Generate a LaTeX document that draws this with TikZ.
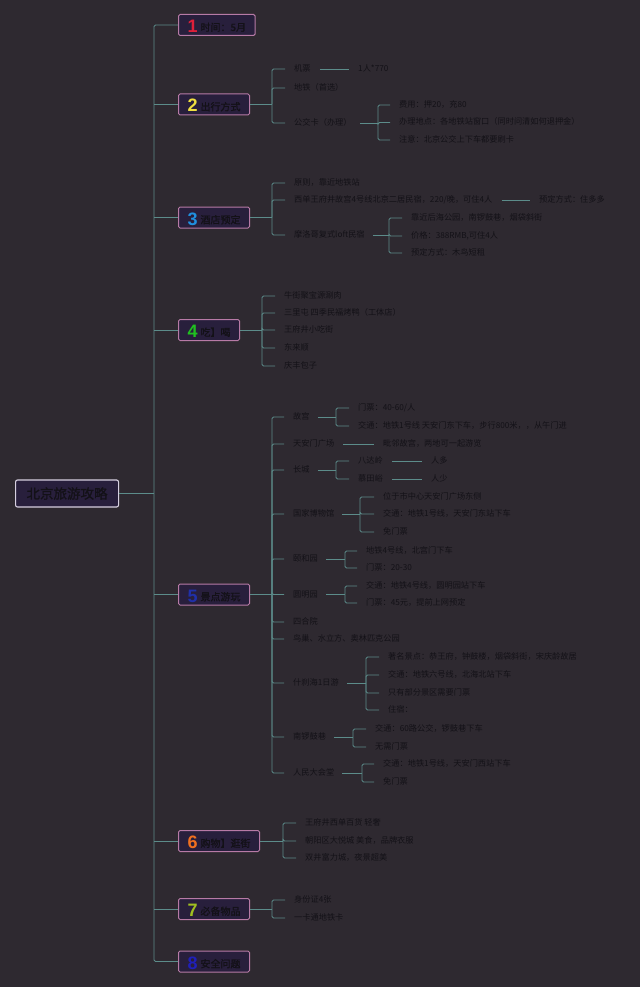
\documentclass[tikz,border=0pt]{standalone}
\usepackage{fontspec}
\setmainfont{Noto Sans CJK SC}
\newfontfamily\numfont{Liberation Sans}
\newfontfamily\boldcjk[FakeBold=1]{Noto Sans CJK SC}
\definecolor{bg}{HTML}{2E2930}
\definecolor{boxfill}{HTML}{281F3C}
\definecolor{boxline}{HTML}{B77AA6}
\definecolor{rootline}{HTML}{D6CFE0}
\definecolor{txt}{HTML}{131117}
\definecolor{lc}{HTML}{5C8C8A}
\definecolor{c1}{HTML}{E0203A}
\definecolor{c2}{HTML}{F0E040}
\definecolor{c3}{HTML}{2090E0}
\definecolor{c4}{HTML}{20C020}
\definecolor{c5}{HTML}{2030A8}
\definecolor{c6}{HTML}{F07020}
\definecolor{c7}{HTML}{A0C020}
\definecolor{c8}{HTML}{2020B8}
\newcommand\lnum[3]{{\numfont\bfseries\fontsize{18}{18}\selectfont\color{#1}#2}\hspace{3pt}\raisebox{1.5pt}{#3}}
\tikzset{
  leaf/.style={anchor=west, inner sep=1pt, text=txt, text height=6.5pt, text depth=1.5pt, font=\fontsize{8.2}{9}\selectfont},
  lone/.style={anchor=west, draw=boxline, fill=boxfill, line width=1pt, rounded corners=1.5pt, inner xsep=9pt, inner ysep=2pt, text height=16pt, text depth=1pt, text=txt, font=\boldcjk\fontsize{10}{12}\selectfont},
  rootbox/.style={anchor=west, draw=rootline, fill=boxfill, line width=1.1pt, rounded corners=2pt, minimum width=103pt, minimum height=27pt, inner sep=0pt, text=txt, font=\boldcjk\fontsize{13.5}{15}\selectfont},
  conn/.style={draw=lc, line width=0.9pt, rounded corners=1.5pt},
  stub/.style={conn, shorten >=8pt},
  link/.style={conn, shorten <=8pt, shorten >=8pt},
  pconn/.style={conn, shorten <=7pt}
}
\begin{document}
\begin{tikzpicture}[x=1pt,y=-1pt]
\fill[bg] (0,0) rectangle (640,987);
\useasboundingbox (0,0) rectangle (640,987);

% root
\node[rootbox] (root) at (15,493.5) {北京旅游攻略};

% level 1
\node[lone] (n1) at (178,25) {\lnum{c1}{1}{时间：5月}};
\node[lone] (n2) at (178,104.5) {\lnum{c2}{2}{出行方式}};
\node[lone] (n3) at (178,217.5) {\lnum{c3}{3}{酒店预定}};
\node[lone] (n4) at (178,330) {\lnum{c4}{4}{吃】喝}};
\node[lone] (n5) at (178,594.5) {\lnum{c5}{5}{景点游玩}};
\node[lone] (n6) at (178,841) {\lnum{c6}{6}{购物】逛街}};
\node[lone] (n7) at (178,909) {\lnum{c7}{7}{必备物品}};
\node[lone] (n8) at (178,961.5) {\lnum{c8}{8}{安全问题}};

% trunk
\coordinate (tb) at (154,961.5);
\draw[conn] (n1.west) -| (tb) -- (n8.west);
\foreach \n in {n2,n3,n4,n5,n6,n7} \draw[conn] (\n.west) -- (\n.west -| tb);
\draw[conn] (root.east) -- (root.east -| tb);

% ---- 2 出行方式
\node[leaf] (a21) at (293,69) {机票};
\node[leaf] (a22) at (293,88) {地铁（首选）};
\node[leaf] (a23) at (293,123) {公交卡（办理）};
\node[leaf] (a211) at (357,69) {1人*770};
\node[leaf] (a231) at (398,105) {费用：押20，充80};
\node[leaf] (a232) at (398,122.5) {办理地点：各地铁站窗口（同时问清如何退押金）};
\node[leaf] (a233) at (398,140) {注意：北京公交上下车都要刷卡};
\coordinate (b2) at (272,104.5);
\draw[conn] (n2.east) -- (b2);
\foreach \c in {a21,a22,a23} \draw[stub] (b2) |- (\c.west);
\draw[link] (a21.east) -- (a211.west);
\coordinate (b23) at (378,123);
\draw[pconn] (a23.east) -- (b23);
\foreach \c in {a231,a232,a233} \draw[stub] (b23) |- (\c.west);

% ---- 3 酒店预定
\node[leaf] (a31) at (293,183) {原则，靠近地铁站};
\node[leaf] (a32) at (293,200) {西单王府井故宫4号线北京二居民宿，220/晚，可住4人};
\node[leaf] (a33) at (293,235) {摩洛哥复式loft民宿};
\node[leaf] (a321) at (538,200) {预定方式：住多多};
\node[leaf] (a331) at (410,218) {靠近后海公园，南锣鼓巷，烟袋斜街};
\node[leaf] (a332) at (410,236) {价格：388RMB,可住4人};
\node[leaf] (a333) at (410,253) {预定方式：木鸟短租};
\coordinate (b3) at (272,217.5);
\draw[conn] (n3.east) -- (b3);
\foreach \c in {a31,a32,a33} \draw[stub] (b3) |- (\c.west);
\draw[link] (a32.east) -- (a321.west);
\coordinate (b33) at (389,235);
\draw[pconn] (a33.east) -- (b33);
\foreach \c in {a331,a332,a333} \draw[stub] (b33) |- (\c.west);

% ---- 4 吃喝
\node[leaf] (a41) at (283,296) {牛街聚宝源涮肉};
\node[leaf] (a42) at (283,313) {三里屯 四季民福烤鸭（工体店）};
\node[leaf] (a43) at (283,330) {王府井小吃街};
\node[leaf] (a44) at (283,348) {东来顺};
\node[leaf] (a45) at (283,366) {庆丰包子};
\coordinate (b4) at (262,330);
\draw[conn] (n4.east) -- (b4);
\foreach \c in {a41,a42,a43,a44,a45} \draw[stub] (b4) |- (\c.west);

% ---- 5 景点游玩
\node[leaf] (s1) at (292,417) {故宫};
\node[leaf] (s2) at (292,444) {天安门广场};
\node[leaf] (s3) at (292,470) {长城};
\node[leaf] (s4) at (292,514) {国家博物馆};
\node[leaf] (s5) at (292,559) {颐和园};
\node[leaf] (s6) at (292,594.5) {圆明园};
\node[leaf] (s7) at (292,622) {四合院};
\node[leaf] (s8) at (292,639) {鸟巢、水立方、奥林匹克公园};
\node[leaf] (s9) at (292,683) {什刹海1日游};
\node[leaf] (s10) at (292,737) {南锣鼓巷};
\node[leaf] (s11) at (292,773) {人民大会堂};
\coordinate (b5) at (272,594.5);
\draw[conn] (n5.east) -- (b5);
\foreach \c in {s1,s2,s3,s4,s5,s6,s7,s8,s9,s10,s11} \draw[stub] (b5) |- (\c.west);

\node[leaf] (s11a) at (357,408) {门票：40-60/人};
\node[leaf] (s12a) at (357,426) {交通：地铁1号线 天安门东下车，步行800米，，从午门进};
\coordinate (b51) at (336,417);
\draw[pconn] (s1.east) -- (b51);
\foreach \c in {s11a,s12a} \draw[stub] (b51) |- (\c.west);

\node[leaf] (s21) at (382,444) {毗邻故宫，两地可一起游览};
\draw[link] (s2.east) -- (s21.west);

\node[leaf] (s31) at (357,461) {八达岭};
\node[leaf] (s32) at (357,479) {慕田峪};
\node[leaf] (s311) at (430,461) {人多};
\node[leaf] (s321) at (430,479) {人少};
\coordinate (b53) at (336,470);
\draw[pconn] (s3.east) -- (b53);
\foreach \c in {s31,s32} \draw[stub] (b53) |- (\c.west);
\draw[link] (s31.east) -- (s311.west);
\draw[link] (s32.east) -- (s321.west);

\node[leaf] (s41) at (382,497) {位于市中心天安门广场东侧};
\node[leaf] (s42) at (382,514) {交通：地铁1号线，天安门东站下车};
\node[leaf] (s43) at (382,532) {免门票};
\coordinate (b54) at (360,514);
\draw[pconn] (s4.east) -- (b54);
\foreach \c in {s41,s42,s43} \draw[stub] (b54) |- (\c.west);

\node[leaf] (s51) at (365,551) {地铁4号线，北宫门下车};
\node[leaf] (s52) at (365,568) {门票：20-30};
\coordinate (b55) at (345,559);
\draw[pconn] (s5.east) -- (b55);
\foreach \c in {s51,s52} \draw[stub] (b55) |- (\c.west);

\node[leaf] (s61) at (365,586) {交通：地铁4号线，圆明园站下车};
\node[leaf] (s62) at (365,603) {门票：45元，提前上网预定};
\coordinate (b56) at (345,594.5);
\draw[pconn] (s6.east) -- (b56);
\foreach \c in {s61,s62} \draw[stub] (b56) |- (\c.west);

\node[leaf] (s91) at (387,657) {著名景点：恭王府，钟鼓楼，烟袋斜街，宋庆龄故居};
\node[leaf] (s92) at (387,675) {交通：地铁六号线，北海北站下车};
\node[leaf] (s93) at (387,693) {只有部分景区需要门票};
\node[leaf] (s94) at (387,710) {住宿：};
\coordinate (b59) at (366,683);
\draw[pconn] (s9.east) -- (b59);
\foreach \c in {s91,s92,s93,s94} \draw[stub] (b59) |- (\c.west);

\node[leaf] (s101) at (374,729) {交通：60路公交，锣鼓巷下车};
\node[leaf] (s102) at (374,747) {无需门票};
\coordinate (b510) at (353,737);
\draw[pconn] (s10.east) -- (b510);
\foreach \c in {s101,s102} \draw[stub] (b510) |- (\c.west);

\node[leaf] (s111) at (382,764) {交通：地铁1号线，天安门西站下车};
\node[leaf] (s112) at (382,782) {免门票};
\coordinate (b511) at (362,773);
\draw[pconn] (s11.east) -- (b511);
\foreach \c in {s111,s112} \draw[stub] (b511) |- (\c.west);

% ---- 6 购物
\node[leaf] (a61) at (304,823) {王府井西单百货 轻奢};
\node[leaf] (a62) at (304,841) {朝阳区大悦城 美食，品牌衣服};
\node[leaf] (a63) at (304,858) {双井富力城，夜景超美};
\coordinate (b6) at (283,841);
\draw[conn] (n6.east) -- (b6);
\foreach \c in {a61,a62,a63} \draw[stub] (b6) |- (\c.west);

% ---- 7 必备物品
\node[leaf] (a71) at (293,900) {身份证4张};
\node[leaf] (a72) at (293,918) {一卡通地铁卡};
\coordinate (b7) at (272,909);
\draw[conn] (n7.east) -- (b7);
\foreach \c in {a71,a72} \draw[stub] (b7) |- (\c.west);
\end{tikzpicture}
\end{document}
